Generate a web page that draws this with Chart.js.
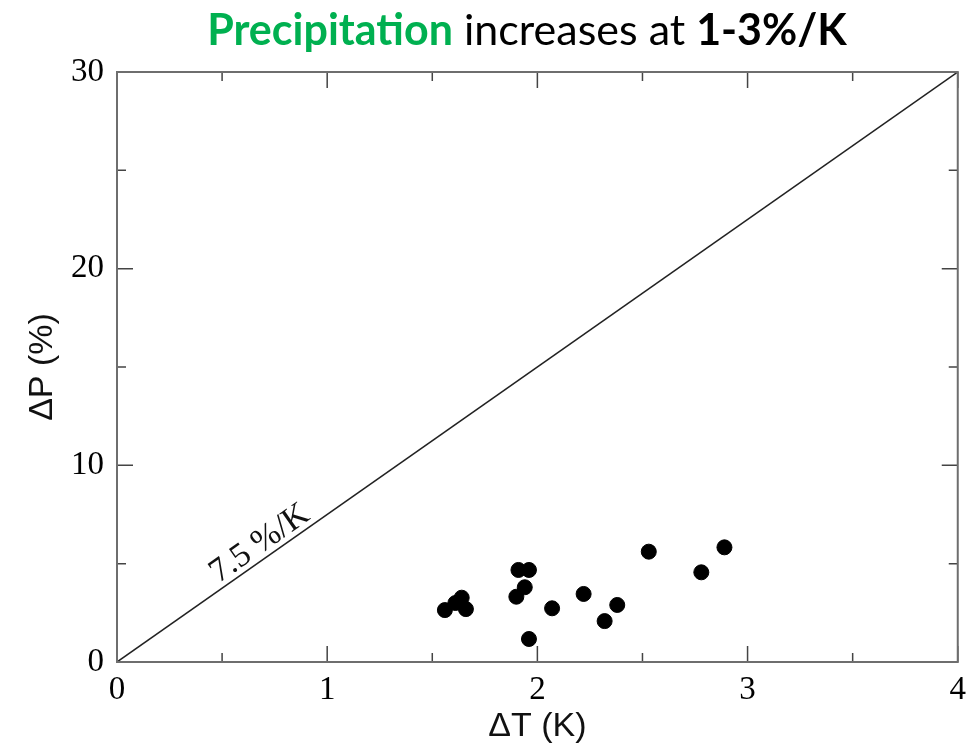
<!DOCTYPE html>
<html>
<head>
<meta charset="utf-8">
<script src="https://cdn.jsdelivr.net/npm/chart.js@4"></script>
<style>
  body { margin: 0; background: #fff; }
  #wrap { width: 967px; height: 747px; }
</style>
</head>
<body>
<div id="wrap"><canvas id="precip-chart" width="967" height="747"></canvas></div>
<script>
// warming (K) and precipitation change (%) for each model
const deltaT = [1.56, 1.61, 1.64, 1.66, 1.91, 1.96, 1.94, 1.90, 1.96, 2.07, 2.22, 2.38, 2.32, 2.53, 2.78, 2.89];
const deltaP = [2.64, 3.00, 3.27, 2.69, 4.68, 4.68, 3.80, 3.32, 1.17, 2.73, 3.46, 2.90, 2.08, 5.61, 4.56, 5.83];

// Clausius-Clapeyron reference line, 7.5 %/K
const ccRate = 7.5;
const ccT = [0, 4];
const ccLabel = '7.5 %/K';

const xTicks = [0, 1, 2, 3, 4];
const yTicks = [0, 10, 20, 30];

const titleParts = [
    { text: 'Precipitation', color: '#00b050', bold: true },
    { text: ' increases at ', color: '#000', bold: false },
    { text: '1-3%/K', color: '#000', bold: true }
];

const serif = '"Liberation Serif", "Times New Roman", serif';
const sans = '"Liberation Sans", Arial, sans-serif';

// frame, inward ticks on all four sides, line label and the title
const decorations = {
    id: 'decorations',
    afterDraw(chart) {
        const ctx = chart.ctx;
        const a = chart.chartArea;
        const xs = chart.scales.x, ys = chart.scales.y;
        ctx.save();

        ctx.strokeStyle = '#444';
        ctx.lineWidth = 1.5;
        for (let v = 0; v <= 4.001; v += 0.5) {
            const px = xs.getPixelForValue(v);
            const len = Number.isInteger(v) ? 16 : 9;
            ctx.beginPath();
            ctx.moveTo(px, a.bottom); ctx.lineTo(px, a.bottom - len);
            ctx.moveTo(px, a.top); ctx.lineTo(px, a.top + len);
            ctx.stroke();
        }
        for (let v = 0; v <= 30.001; v += 5) {
            const py = ys.getPixelForValue(v);
            const len = v % 10 === 0 ? 16 : 9;
            ctx.beginPath();
            ctx.moveTo(a.left, py); ctx.lineTo(a.left + len, py);
            ctx.moveTo(a.right, py); ctx.lineTo(a.right - len, py);
            ctx.stroke();
        }

        ctx.strokeStyle = '#6e6e6e';
        ctx.lineWidth = 2;
        ctx.strokeRect(a.left, a.top, a.right - a.left, a.bottom - a.top);

        // label along the 7.5 %/K line
        const x0 = xs.getPixelForValue(0), y0 = ys.getPixelForValue(0);
        const x1 = xs.getPixelForValue(4), y1 = ys.getPixelForValue(4 * ccRate);
        const ang = Math.atan2(y1 - y0, x1 - x0);
        const lx = xs.getPixelForValue(0.72), ly = ys.getPixelForValue(0.72 * ccRate);
        ctx.translate(lx, ly);
        ctx.rotate(ang);
        ctx.fillStyle = '#111';
        ctx.font = '34px ' + serif;
        ctx.textAlign = 'center';
        ctx.textBaseline = 'alphabetic';
        ctx.fillText(ccLabel, 0, -6);
        ctx.restore();

        // title
        ctx.save();
        ctx.textBaseline = 'alphabetic';
        ctx.textAlign = 'left';
        const size = 43;
        const fontOf = p => (p.bold ? 'bold ' : '') + size + 'px Lato, "Open Sans", sans-serif';
        let total = 0;
        titleParts.forEach(p => { ctx.font = fontOf(p); total += ctx.measureText(p.text).width; });
        let tx = 527 - total / 2;
        titleParts.forEach(p => {
            ctx.font = fontOf(p);
            ctx.fillStyle = p.color;
            ctx.fillText(p.text, tx, 45);
            tx += ctx.measureText(p.text).width;
        });
        ctx.restore();
    }
};

const ctx = document.getElementById('precip-chart').getContext('2d');
const precipChart = new Chart(ctx, {
    type: 'scatter',
    data: {
        datasets: [{
            label: 'models',
            data: deltaT.map((t, i) => ({ x: t, y: deltaP[i] })),
            backgroundColor: '#000',
            borderColor: '#000',
            pointRadius: 7.5,
            pointHoverRadius: 7.5
        }, {
            type: 'line',
            label: ccLabel,
            data: ccT.map(t => ({ x: t, y: t * ccRate })),
            borderColor: '#222',
            borderWidth: 1.5,
            pointRadius: 0,
            fill: false
        }]
    },
    options: {
        responsive: false,
        animation: false,
        layout: { padding: { top: 72, right: 9, left: 0, bottom: 0 } },
        plugins: {
            legend: { display: false },
            tooltip: { enabled: false }
        },
        scales: {
            x: {
                type: 'linear',
                min: 0, max: 4,
                afterBuildTicks: s => { s.ticks = xTicks.map(v => ({ value: v })); },
                afterFit: s => { s.height = 85; },
                grid: { display: false },
                border: { display: false },
                ticks: { color: '#000', font: { family: serif, size: 33 }, padding: 1, maxRotation: 0 },
                title: { display: true, text: 'ΔT (K)', color: '#111', font: { family: sans, size: 34 }, padding: { top: 0, bottom: 0 } }
            },
            y: {
                type: 'linear',
                min: 0, max: 30,
                afterBuildTicks: s => { s.ticks = yTicks.map(v => ({ value: v })); },
                afterFit: s => { s.width = 117; },
                grid: { display: false },
                border: { display: false },
                ticks: { color: '#000', font: { family: serif, size: 33 }, padding: 5 },
                title: { display: true, text: 'ΔP (%)', color: '#111', font: { family: sans, size: 34 }, padding: { top: 22, bottom: 0 } }
            }
        }
    },
    plugins: [decorations]
});
</script>
</body>
</html>
